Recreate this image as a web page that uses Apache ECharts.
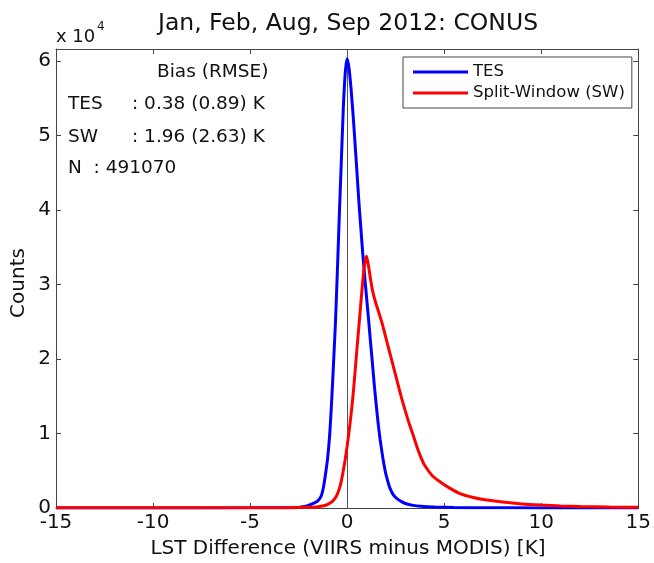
<!DOCTYPE html>
<html><head><meta charset="utf-8">
<script src="https://cdn.jsdelivr.net/npm/echarts@6/dist/echarts.min.js"></script>
<style>html,body{margin:0;padding:0;background:#fff}#c{width:654px;height:563px}</style>
</head><body><div id="c"></div>
<script>
// LST difference (K) and counts
var tesX = [-15,-10,-5,-3,-2.5,-2.2,-2.0,-1.8,-1.6,-1.5,-1.4,-1.3,-1.2,-1.1,-1.0,-0.9,-0.8,-0.7,-0.6,-0.5,-0.4,-0.3,-0.2,-0.1,0,0.1,0.2,0.3,0.4,0.5,0.6,0.7,0.8,0.9,1.0,1.1,1.2,1.3,1.4,1.5,1.6,1.7,1.8,1.9,2.0,2.2,2.4,2.6,2.8,3.0,3.4,3.8,4.5,5.5,7,10,15];
var tesCounts = [5,10,20,50,80,200,350,550,800,1000,1300,1900,3100,4800,6800,9800,14200,19500,25000,32000,39500,46500,53500,58300,60300,59000,56300,53000,49200,45300,41300,37800,34300,31200,28300,25400,22400,19500,16500,13800,11300,9200,7400,5800,4500,2700,1700,1200,850,600,350,220,120,60,30,10,0];
var swX = [-15,-10,-5,-3,-2.5,-2,-1.5,-1.2,-1.0,-0.8,-0.6,-0.5,-0.4,-0.3,-0.2,-0.1,0,0.1,0.2,0.3,0.4,0.5,0.6,0.7,0.8,0.9,1.0,1.1,1.2,1.3,1.4,1.5,1.6,1.8,2.0,2.2,2.4,2.6,2.8,3.0,3.2,3.4,3.6,3.8,4.0,4.4,4.8,5.2,5.75,6.5,7.1,8,9,10,11,12,13.5,15];
var swCounts = [20,20,30,50,80,110,180,300,500,800,1400,1900,2600,3600,5000,6500,8300,10300,12500,15000,18000,21200,24200,27300,30300,32700,33800,32500,30800,29300,28200,27300,26500,24800,22800,20800,18800,16800,14800,13000,11300,9800,8200,6800,5700,4300,3500,2800,2000,1400,1100,800,550,400,280,200,130,100];
var xTicks = [-15,-10,-5,0,5,10,15];
var yTickLabels = ['0','1','2','3','4','5','6'];
var seriesNames = ['TES','Split-Window (SW)'];

function pairs(xs, ys){ return xs.map(function(x,i){ return [x, ys[i]]; }); }

var FONT = 'DejaVu Sans';
var chart = echarts.init(document.getElementById('c'));
var axisLineStyle = {color:'#444', width:1};
chart.setOption({
  animation:false,
  backgroundColor:'#fff',
  grid:{left:56, right:14, top:49, bottom:55, containLabel:false},
  xAxis:[{
    type:'value', min:-15, max:15, interval:5, position:'bottom',
    axisLine:{show:true, onZero:false, lineStyle:axisLineStyle},
    axisTick:{show:true, inside:true, length:5, lineStyle:axisLineStyle},
    axisLabel:{show:true, margin:5, fontFamily:FONT, fontSize:20, color:'#111'},
    splitLine:{show:false}
  },{
    type:'value', min:-15, max:15, interval:5, position:'top',
    axisLine:{show:true, onZero:false, lineStyle:axisLineStyle},
    axisTick:{show:true, inside:true, length:5, lineStyle:axisLineStyle},
    axisLabel:{show:false}, splitLine:{show:false}
  }],
  yAxis:[{
    type:'value', min:0, max:61600, interval:10000, position:'left',
    axisLine:{show:true, onZero:false, lineStyle:axisLineStyle},
    axisTick:{show:true, inside:true, length:5, lineStyle:axisLineStyle},
    axisLabel:{show:true, margin:5, showMaxLabel:false, fontFamily:FONT, fontSize:20, color:'#111',
      formatter:function(v){ var i = Math.round(v/10000); return (Math.abs(v - i*10000) < 1) ? yTickLabels[i] : ''; }},
    splitLine:{show:false}
  },{
    type:'value', min:0, max:61600, interval:10000, position:'right',
    axisLine:{show:true, onZero:false, lineStyle:axisLineStyle},
    axisTick:{show:true, inside:true, length:5, lineStyle:axisLineStyle},
    axisLabel:{show:false}, splitLine:{show:false}
  }],
  legend:{
    data:seriesNames, orient:'vertical', left:403, top:57, icon:'rect',
    backgroundColor:'#fff', borderColor:'#444', borderWidth:1, borderRadius:0,
    padding:[6,7,6,10], itemGap:3, itemWidth:55, itemHeight:3,
    textStyle:{fontFamily:FONT, fontSize:16.5, color:'#111', lineHeight:18}
  },
  series:[{
    name:seriesNames[0], type:'line', data:pairs(tesX, tesCounts), symbol:'none',
    smooth:0.2,
    lineStyle:{color:'#0000ff', width:3}, itemStyle:{color:'#0000ff'}, z:3,
    markLine:{silent:true, symbol:'none', label:{show:false},
      lineStyle:{color:'#555', width:1, type:'solid'}, data:[{xAxis:0}], z:1}
  },{
    name:seriesNames[1], type:'line', data:pairs(swX, swCounts), symbol:'none',
    smooth:0.2,
    lineStyle:{color:'#ff0000', width:3}, itemStyle:{color:'#ff0000'}, z:4
  }],
  graphic:[
    {type:'text', x:348, y:24, style:{text:'Jan, Feb, Aug, Sep 2012: CONUS', fontFamily:FONT, fontSize:23.5, fill:'#111', textAlign:'center', textVerticalAlign:'middle'}},
    {type:'text', x:56, y:37, style:{text:'x 10', fontFamily:FONT, fontSize:18, fill:'#111', textAlign:'left', textVerticalAlign:'middle'}},
    {type:'text', x:97, y:27, style:{text:'4', fontFamily:FONT, fontSize:12, fill:'#111', textAlign:'left', textVerticalAlign:'middle'}},
    {type:'text', x:348, y:549, style:{text:'LST Difference (VIIRS minus MODIS) [K]', fontFamily:FONT, fontSize:20, fill:'#111', textAlign:'center', textVerticalAlign:'middle'}},
    {type:'text', x:19, y:283, rotation:Math.PI/2, style:{text:'Counts', fontFamily:FONT, fontSize:20, fill:'#111', textAlign:'center', textVerticalAlign:'middle'}},
    {type:'text', x:157, y:72, style:{text:'Bias (RMSE)', fontFamily:FONT, fontSize:18.5, fill:'#111', textVerticalAlign:'middle'}},
    {type:'text', x:68, y:104, style:{text:'TES', fontFamily:FONT, fontSize:18.5, fill:'#111', textVerticalAlign:'middle'}},
    {type:'text', x:132, y:104, style:{text:': 0.38 (0.89) K', fontFamily:FONT, fontSize:18.5, fill:'#111', textVerticalAlign:'middle'}},
    {type:'text', x:68, y:137, style:{text:'SW', fontFamily:FONT, fontSize:18.5, fill:'#111', textVerticalAlign:'middle'}},
    {type:'text', x:132, y:137, style:{text:': 1.96 (2.63) K', fontFamily:FONT, fontSize:18.5, fill:'#111', textVerticalAlign:'middle'}},
    {type:'text', x:68, y:168, style:{text:'N  : 491070', fontFamily:FONT, fontSize:18.5, fill:'#111', textVerticalAlign:'middle'}}
  ]
});
</script></body></html>
